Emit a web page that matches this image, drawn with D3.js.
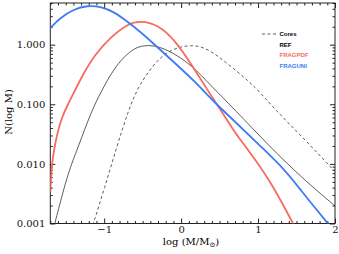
<!DOCTYPE html>
<meta charset="utf-8">
<head>
    <meta charset="utf-8">
    <script src="https://d3js.org/d3.v7.min.js"></script>
    <style>
        body { margin: 0; background: #fff; }
        .tick text { font-family: "DejaVu Serif", serif; font-size: 10px; fill: #111; }
        .axis path { display: none; }
        .axis line { stroke: #222; }
    </style>
</head>
<body>
    <svg width="339" height="254"></svg>
    <script>
        // values: log(M/Msun) and N(log M)
        var refX = [-1.647, -1.512, -1.429, -1.343, -1.168, -1.038, -0.907, -0.777, -0.669, -0.561, -0.386, -0.169, 0.136, 0.396, 0.700, 1.130, 1.570, 2.0];
        var refY = [0.00094, 0.00444, 0.00962, 0.0184, 0.0757, 0.164, 0.334, 0.560, 0.753, 0.935, 1.0, 0.824, 0.461, 0.199, 0.0809, 0.0208, 0.00582, 0.00197];

        var pdfX = [-1.70, -1.682, -1.647, -1.604, -1.552, -1.473, -1.408, -1.278, -1.123, -0.907, -0.691, -0.538, -0.300, -0.082, 0.179, 0.396, 0.570, 0.678, 0.766, 1.131, 1.47];
        var pdfY = [0.00338, 0.00962, 0.0186, 0.0345, 0.0593, 0.0982, 0.1445, 0.313, 0.679, 1.377, 2.228, 2.529, 2.168, 1.213, 0.380, 0.135, 0.0624, 0.0372, 0.0257, 0.00612, 0.00092];

        var uniX = [-1.70, -1.574, -1.405, -1.217, -1.034, -0.865, -0.734, -0.538, -0.343, -0.082, 0.179, 0.440, 0.700, 1.026, 1.352, 1.574, 1.743, 1.913];
        var uniY = [1.89, 2.81, 3.87, 4.58, 4.31, 3.49, 2.63, 1.69, 1.0, 0.492, 0.242, 0.105, 0.0514, 0.0201, 0.00793, 0.00338, 0.00182, 0.00098];

        var coreX = [-1.147, -0.995, -0.842, -0.691, -0.561, -0.300, -0.082, 0.136, 0.352, 0.700, 0.961, 1.222, 1.570, 2.0];
        var coreY = [0.00094, 0.00391, 0.0184, 0.0748, 0.199, 0.597, 0.881, 1.0, 0.881, 0.380, 0.199, 0.0809, 0.0288, 0.00743];

        var xTicks = [-1, 0, 1, 2];
        var xTickLabels = ["\u22121", "0", "1", "2"];
        var yTicks = [0.001, 0.01, 0.1, 1];
        var yTickLabels = ["0.001", "0.010", "0.100", "1.000"];

        var legendNames = ["Cores", "REF", "FRAGPDF", "FRAGUNI"];
        var legendColors = ["#000", "#000", "#f86a5e", "#3d7cf5"];

        var svg = d3.select("svg");
        var pL = 50.3, pR = 335, pT = 3, pB = 223.5;

        var x = d3.scaleLinear().domain([-1.7, 2]).range([pL, pR]);
        var y = d3.scaleLog().domain([0.001, 5]).range([pB, pT]);

        var g = svg.append("g");

        svg.append("defs").append("clipPath").attr("id", "clip")
            .append("rect")
            .attr("x", pL).attr("y", pT)
            .attr("width", pR - pL).attr("height", pB - pT);

        // minor ticks
        var xMinor = d3.range(-17, 21).map(function (d) { return d / 10; })
            .filter(function (d) { return xTicks.indexOf(d) < 0; });
        var yMinor = y.ticks().filter(function (d) { return yTicks.indexOf(d) < 0 && d <= 5; });

        // bottom
        g.append("g").attr("class", "axis")
            .attr("transform", "translate(0," + pB + ")")
            .call(d3.axisBottom(x).tickValues(xTicks).tickSize(-5).tickPadding(2)
                .tickFormat(function (d, i) { return xTickLabels[i]; }));
        g.append("g").attr("class", "axis")
            .attr("transform", "translate(0," + pB + ")")
            .call(d3.axisBottom(x).tickValues(xMinor).tickSize(-2.5).tickFormat(""));
        // top
        g.append("g").attr("class", "axis")
            .attr("transform", "translate(0," + pT + ")")
            .call(d3.axisTop(x).tickValues(xTicks).tickSize(-5).tickFormat(""));
        g.append("g").attr("class", "axis")
            .attr("transform", "translate(0," + pT + ")")
            .call(d3.axisTop(x).tickValues(xMinor).tickSize(-2.5).tickFormat(""));
        // left
        g.append("g").attr("class", "axis")
            .attr("transform", "translate(" + pL + ",0)")
            .call(d3.axisLeft(y).tickValues(yTicks).tickSize(-5).tickPadding(5)
                .tickFormat(function (d, i) { return yTickLabels[i]; }));
        g.append("g").attr("class", "axis")
            .attr("transform", "translate(" + pL + ",0)")
            .call(d3.axisLeft(y).tickValues(yMinor).tickSize(-2.5).tickFormat(""));
        // right
        g.append("g").attr("class", "axis")
            .attr("transform", "translate(" + pR + ",0)")
            .call(d3.axisRight(y).tickValues(yTicks).tickSize(-5).tickFormat(""));
        g.append("g").attr("class", "axis")
            .attr("transform", "translate(" + pR + ",0)")
            .call(d3.axisRight(y).tickValues(yMinor).tickSize(-2.5).tickFormat(""));

        // frame
        g.append("rect")
            .attr("x", pL).attr("y", pT)
            .attr("width", pR - pL).attr("height", pB - pT)
            .attr("fill", "none").attr("stroke", "#222").attr("stroke-width", 1);

        var line = d3.line()
            .x(function (d) { return x(d[0]); })
            .y(function (d) { return y(d[1]); })
            .curve(d3.curveBasis);

        function pairs(xs, ys) { return xs.map(function (v, i) { return [v, ys[i]]; }); }

        var curves = g.append("g").attr("clip-path", "url(#clip)");

        curves.append("path").datum(pairs(coreX, coreY))
            .attr("d", line).attr("fill", "none")
            .attr("stroke", "#333").attr("stroke-width", 0.8).attr("stroke-dasharray", "3,2.5");
        curves.append("path").datum(pairs(refX, refY))
            .attr("d", line).attr("fill", "none")
            .attr("stroke", "#333").attr("stroke-width", 0.8);
        curves.append("path").datum(pairs(pdfX, pdfY))
            .attr("d", line).attr("fill", "none")
            .attr("stroke", legendColors[2]).attr("stroke-width", 1.8);
        curves.append("path").datum(pairs(uniX, uniY))
            .attr("d", line).attr("fill", "none")
            .attr("stroke", legendColors[3]).attr("stroke-width", 1.8);

        // legend
        var legend = g.append("g");
        legend.append("line")
            .attr("x1", 262).attr("x2", 277).attr("y1", 34).attr("y2", 34)
            .attr("stroke", "#333").attr("stroke-width", 0.8).attr("stroke-dasharray", "3,2.5");
        legend.selectAll("text").data(legendNames).enter().append("text")
            .attr("x", 279.5)
            .attr("y", function (d, i) { return 36.3 + i * 10.4; })
            .attr("fill", function (d, i) { return legendColors[i]; })
            .style("font-family", "Liberation Sans, sans-serif")
            .style("font-size", "6px")
            .style("font-weight", "bold")
            .text(function (d) { return d; });

        // axis labels
        var xl = svg.append("text")
            .attr("x", 191).attr("y", 244.5)
            .style("text-anchor", "middle")
            .style("font-family", "DejaVu Serif, serif")
            .style("font-size", "10px");
        xl.append("tspan").text("log (M/M");
        xl.append("tspan").attr("dy", 2.5).style("font-size", "7px").text("\u2299");
        xl.append("tspan").attr("dy", -2.5).text(")");

        svg.append("text")
            .attr("transform", "translate(12,112) rotate(-90)")
            .style("text-anchor", "middle")
            .style("font-family", "DejaVu Serif, serif")
            .style("font-size", "10px")
            .text("N(log M)");
    </script>
</body>
</html>
